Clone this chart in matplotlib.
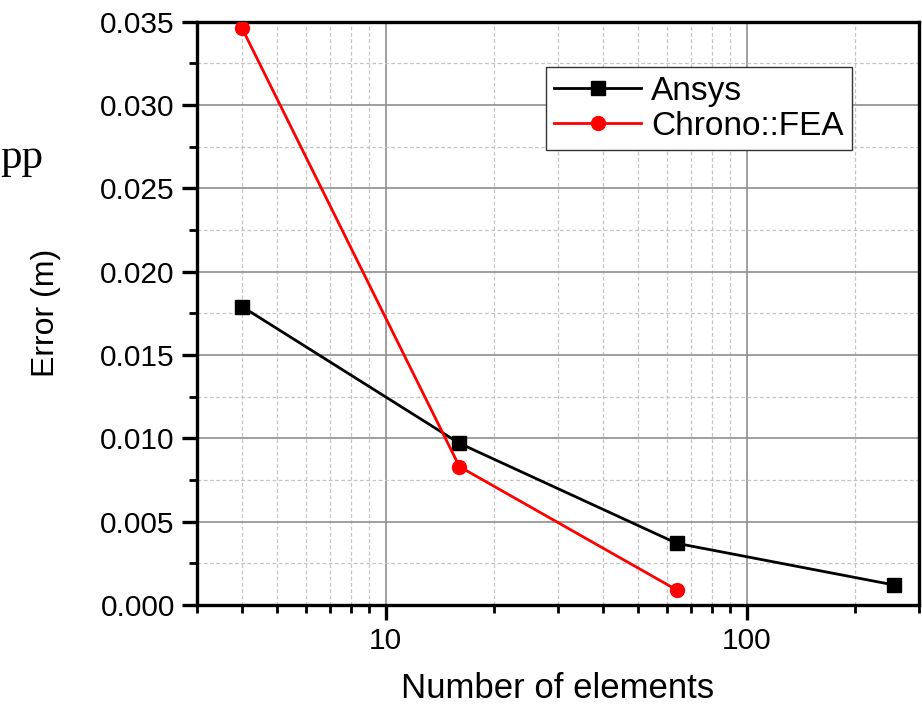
import matplotlib
matplotlib.use("Agg")
import matplotlib.pyplot as plt
from matplotlib.ticker import MultipleLocator, LogLocator, NullFormatter, FormatStrFormatter

plt.rcParams['font.family'] = ['Liberation Sans', 'DejaVu Sans']

# data
ansys_n = [4, 16, 64, 256]
ansys_err = [0.0179, 0.0097, 0.0037, 0.0012]
chrono_n = [4, 16, 64]
chrono_err = [0.0346, 0.0083, 0.0009]

fig = plt.figure(figsize=(9.22, 7.14), dpi=100)
ax = fig.add_axes([0.2137, 0.1527, 0.7830, 0.8169])

ax.plot(ansys_n, ansys_err, color='black', lw=2.0, marker='s', ms=9.5, label='Ansys', zorder=3)
ax.plot(chrono_n, chrono_err, color='red', lw=2.0, marker='o', ms=10, label='Chrono::FEA', zorder=3)

ax.set_xscale('log')
ax.set_xlim(3, 300)
ax.set_ylim(0, 0.035)
ax.yaxis.set_major_locator(MultipleLocator(0.005))
ax.yaxis.set_minor_locator(MultipleLocator(0.0025))
ax.yaxis.set_major_formatter(FormatStrFormatter('%.3f'))
ax.xaxis.set_minor_locator(LogLocator(base=10, subs=range(2, 10)))
ax.xaxis.set_minor_formatter(NullFormatter())
ax.set_xticks([10, 100])
ax.set_xticklabels(['10', '100'])

ax.grid(which='major', color='#8f8f8f', lw=1.2, ls='-')
ax.grid(which='minor', color='#c4c4c4', lw=0.9, ls=(0, (3, 2)))
ax.set_axisbelow(True)

for s in ax.spines.values():
    s.set_linewidth(2.4)
ax.tick_params(which='major', direction='out', length=11, width=2.4, labelsize=21.5, pad=5)
ax.tick_params(which='minor', direction='out', length=6, width=2.0)
ax.tick_params(top=False, right=False, which='both')

ax.set_xlabel('Number of elements', fontsize=25, labelpad=12)
ax.set_ylabel('Error (m)', fontsize=23, labelpad=28)

leg = ax.legend(loc='upper right', bbox_to_anchor=(0.907, 0.922), fontsize=24,
                frameon=True, fancybox=False, edgecolor='#333333', framealpha=1,
                handlelength=2.6, handletextpad=0.3, borderpad=0.25, labelspacing=0.12,
                borderaxespad=0)
leg.get_frame().set_linewidth(1.0)

fig.text(43 / 922, 1 - 168 / 714, 'pp', ha='right', va='baseline',
         fontsize=31, family=['Liberation Serif', 'DejaVu Serif'])

fig.savefig('out.png', dpi=100)
